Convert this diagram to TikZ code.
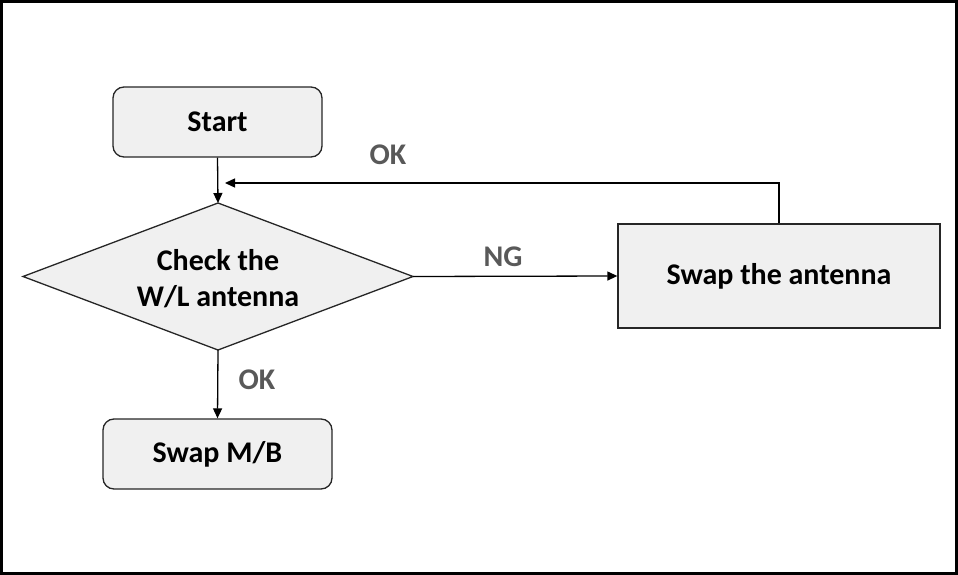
\documentclass[tikz,border=0pt]{standalone}
\usepackage{fontspec}
\setmainfont{Carlito}
\usetikzlibrary{arrows.meta}
\definecolor{boxfill}{HTML}{F0F0F0}
\definecolor{boxline}{HTML}{262626}
\definecolor{lblgray}{HTML}{595959}
\tikzset{
  txt/.style={font=\fontsize{30}{36}\selectfont\bfseries, align=center, inner sep=0pt},
  basebox/.style={txt, draw=boxline, fill=boxfill, line width=1.3pt},
  roundbox/.style={basebox, rounded corners=11pt},
  squarebox/.style={basebox},
  conn/.style={line width=1.3pt, draw=black, -{Triangle[length=10pt,width=9pt]}},
  lbl/.style={txt, text=lblgray}
}
\begin{document}
\begin{tikzpicture}[x=1pt,y=-1pt]
  \useasboundingbox (0,0) rectangle (958,575);
  \draw[line width=2.6pt] (1.3,1.3) rectangle (956.7,573.7);
  \node[roundbox, minimum width=209pt, minimum height=70pt] (start) at (217.5,122) {Start};
  \path (23,276.5) coordinate (dl) (413,276.5) coordinate (dr) (218,203) coordinate (dt) (218,350) coordinate (db);
  \filldraw[draw=boxline, fill=boxfill, line width=1.3pt] (dt) -- (dr) -- (db) -- (dl) -- cycle;
  \node[txt] (check) at (218,279) {Check the\\W/L antenna};
  \node[squarebox, minimum width=322pt, minimum height=104pt] (swapant) at (779,276) {Swap the antenna};
  \node[roundbox, minimum width=229pt, minimum height=70pt] (swapmb) at (217.5,454) {Swap M/B};
  \coordinate (back) at (225,183);
  \draw[conn] (start.south) -- (dt);
  \draw[conn] (dr) -- (swapant.west);
  \draw[conn] (swapant.north) |- (back);
  \draw[conn] (db) -- (swapmb.north);
  \node[lbl] (ok1) at (388,155) {OK};
  \node[lbl] (ng) at (503,257) {NG};
  \node[lbl] (ok2) at (257,380) {OK};
\end{tikzpicture}
\end{document}
